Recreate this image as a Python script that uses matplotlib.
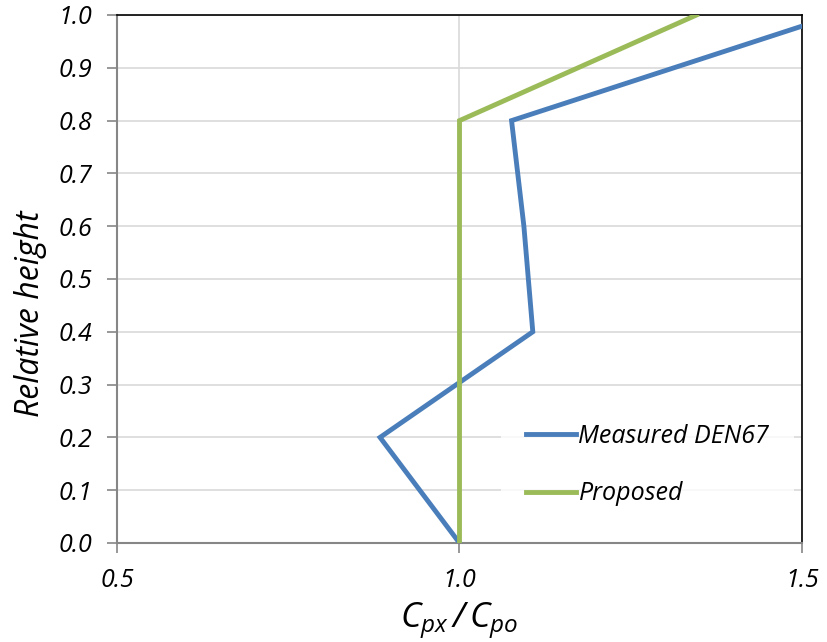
import matplotlib
matplotlib.use("Agg")
import matplotlib.pyplot as plt
from matplotlib.ticker import FixedLocator

plt.rcParams['font.family'] = ['Open Sans', 'DejaVu Sans']
plt.rcParams['mathtext.fontset'] = 'custom'
plt.rcParams['mathtext.it'] = 'Open Sans:italic'
plt.rcParams['mathtext.rm'] = 'Open Sans:italic'

measured_x = [1.0, 0.884, 1.107, 1.094, 1.076, 1.55]
measured_y = [0.0, 0.2, 0.4, 0.6, 0.8, 1.0]
proposed_x = [1.0, 1.0, 1.346]
proposed_y = [0.0, 0.8, 1.0]
xticks = [0.5, 1.0, 1.5]
yticks = [0.0, 0.1, 0.2, 0.3, 0.4, 0.5, 0.6, 0.7, 0.8, 0.9, 1.0]

fig = plt.figure(figsize=(8.28, 6.42), dpi=100)
ax = fig.add_axes([117/828, 1-543/642, (802-117)/828, (543-15)/642])

ax.plot(measured_x, measured_y, color='#4a7ebb', lw=3.5, label='Measured DEN67',
        solid_joinstyle='miter', zorder=3)
ax.plot(proposed_x, proposed_y, color='#9bbb59', lw=3.5, label='Proposed',
        solid_joinstyle='miter', zorder=3)

ax.set_xlim(0.5, 1.5)
ax.set_ylim(0.0, 1.0)
ax.xaxis.set_major_locator(FixedLocator(xticks))
ax.yaxis.set_major_locator(FixedLocator(yticks))
ax.set_xticklabels([f"{v:.1f}" for v in xticks], fontsize=18, style='italic')
ax.set_yticklabels([f"{v:.1f}" for v in yticks], fontsize=18, style='italic')
ax.grid(True, color='#d9d9d9', lw=1.2, zorder=0)
ax.set_axisbelow(True)

for s in ['left', 'bottom']:
    ax.spines[s].set_color('#868686')
    ax.spines[s].set_linewidth(1.5)
for s in ['top', 'right']:
    ax.spines[s].set_color('black')
    ax.spines[s].set_linewidth(1.2)
ax.tick_params(axis='both', direction='out', length=7, width=1.2, color='#868686')
ax.tick_params(axis='y', pad=11)
ax.tick_params(axis='x', pad=11)

ax.set_ylabel('Relative height', fontsize=23, style='italic')
ax.yaxis.set_label_coords(-0.102, (543-314)/528)
ax.set_xlabel(r'$C_{px}\,/\,C_{po}$', fontsize=25, labelpad=6)

leg = ax.legend(loc='center left', bbox_to_anchor=((488-117)/685, (543-465)/528),
                frameon=True, fontsize=18, handlelength=2.0, handletextpad=0.12,
                labelspacing=1.3, borderpad=1.0)
leg.get_frame().set_facecolor('white')
leg.get_frame().set_edgecolor('none')
leg.get_frame().set_boxstyle('square', pad=0)
for t in leg.get_texts():
    t.set_style('italic')

fig.savefig('out.png', dpi=100)
